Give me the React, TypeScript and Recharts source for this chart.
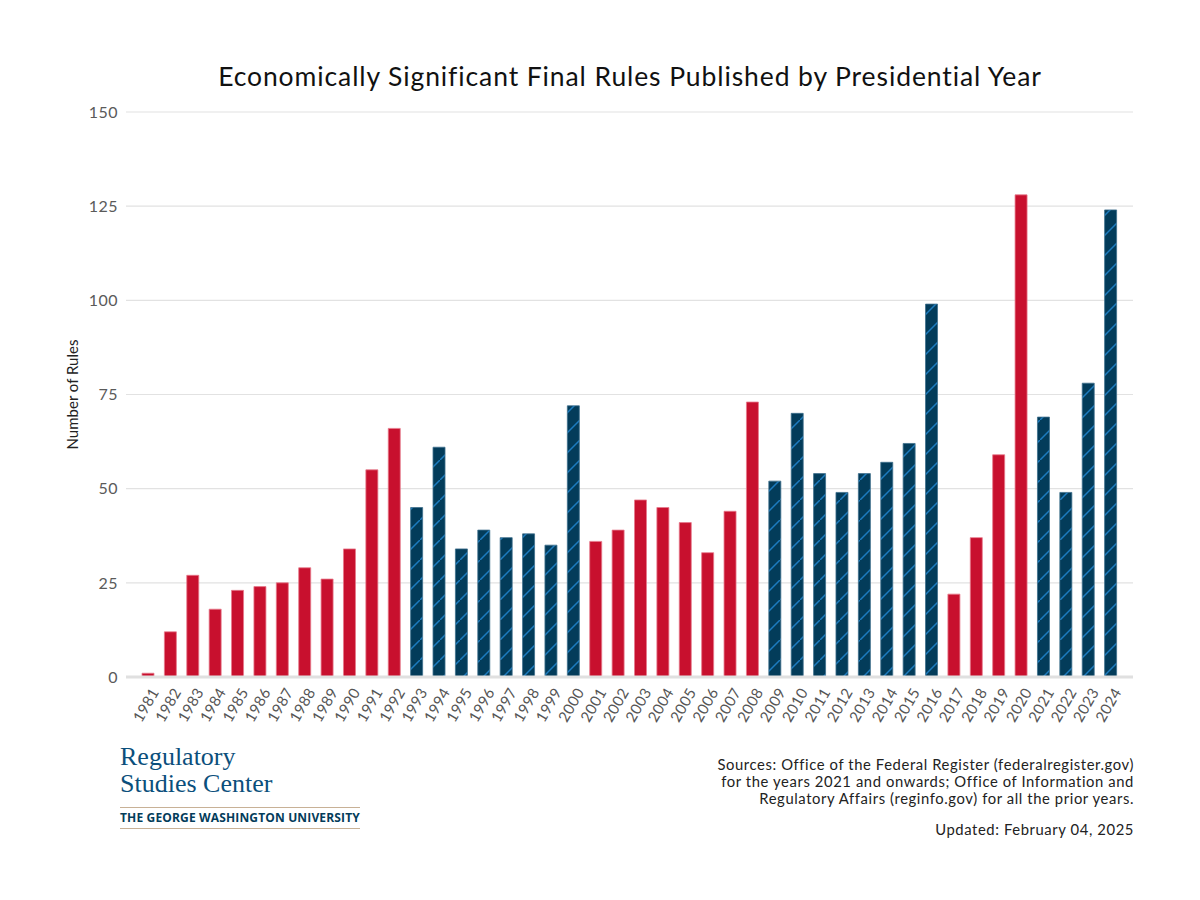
import React from 'react';
import { BarChart, Bar, XAxis, YAxis, CartesianGrid, Cell } from 'recharts';

// years and counts of economically significant final rules
const YEARS = [
  1981, 1982, 1983, 1984, 1985, 1986, 1987, 1988, 1989, 1990, 1991, 1992,
  1993, 1994, 1995, 1996, 1997, 1998, 1999, 2000,
  2001, 2002, 2003, 2004, 2005, 2006, 2007, 2008,
  2009, 2010, 2011, 2012, 2013, 2014, 2015, 2016,
  2017, 2018, 2019, 2020,
  2021, 2022, 2023, 2024,
];
const RULES = [
  1, 12, 27, 18, 23, 24, 25, 29, 26, 34, 55, 66,
  45, 61, 34, 39, 37, 38, 35, 72,
  36, 39, 47, 45, 41, 33, 44, 73,
  52, 70, 54, 49, 54, 57, 62, 99,
  22, 37, 59, 128,
  69, 49, 78, 124,
];
// R = Republican administration, D = Democratic administration
const PARTY = [
  'R', 'R', 'R', 'R', 'R', 'R', 'R', 'R', 'R', 'R', 'R', 'R',
  'D', 'D', 'D', 'D', 'D', 'D', 'D', 'D',
  'R', 'R', 'R', 'R', 'R', 'R', 'R', 'R',
  'D', 'D', 'D', 'D', 'D', 'D', 'D', 'D',
  'R', 'R', 'R', 'R',
  'D', 'D', 'D', 'D',
];
const Y_TICKS = [0, 25, 50, 75, 100, 125, 150];

const RED = '#C8102E';
const NAVY = '#033C5A';
const FONT = 'Lato, "Open Sans", sans-serif';

const data = YEARS.map((year, i) => ({ year: String(year), rules: RULES[i], party: PARTY[i] }));

function YearTick(props: any) {
  const { x, y, payload } = props;
  const ax = x + 6;
  const ay = y + 4;
  return (
    <text
      x={ax}
      y={ay}
      transform={`rotate(-60 ${ax} ${ay})`}
      textAnchor="end"
      dominantBaseline="central"
      fontSize={15}
      letterSpacing={0.3}
      fill="#555"
      fontFamily={FONT}
    >
      {payload.value}
    </text>
  );
}

export default function App() {
  return (
    <div style={{ position: 'absolute', left: 0, top: 0, width: 1200, height: 900, background: '#fff', fontFamily: FONT }}>
      <div style={{ position: 'absolute', left: 0, width: 1260, top: 60, textAlign: 'center', fontSize: 26.5, letterSpacing: 0.9, color: '#111' }}>
        Economically Significant Final Rules Published by Presidential Year
      </div>

      <BarChart
        width={1200}
        height={900}
        data={data}
        margin={{ top: 112, right: 67, bottom: 163, left: 66 }}
        style={{ position: 'absolute', left: 0, top: 0 }}
      >
        <defs>
          <pattern id="hatch" patternUnits="userSpaceOnUse" width="20" height="20">
            <rect width="20" height="20" fill={NAVY} />
            <line x1="-2" y1="22" x2="22" y2="-2" stroke="#1C7BBF" strokeWidth="1.5" />
          </pattern>
        </defs>
        <CartesianGrid vertical={false} stroke="#e2e2e2" strokeWidth={1.2} />
        <XAxis
          dataKey="year"
          interval={0}
          padding={{ left: 11, right: 11 }}
          axisLine={{ stroke: '#e0e0e0', strokeWidth: 3 }}
          tickLine={false}
          tick={<YearTick />}
          height={60}
        />
        <YAxis
          domain={[0, 150]}
          ticks={Y_TICKS}
          axisLine={false}
          tickLine={false}
          width={60}
          tick={{ fontSize: 16, fill: '#5a5a5a', fontFamily: FONT, letterSpacing: 0.5 }}
          label={{
            value: 'Number of Rules',
            angle: -90,
            position: 'insideLeft',
            dx: 2,
            style: { textAnchor: 'middle', fontSize: 15, fill: '#222', fontFamily: FONT },
          }}
        />
        <Bar dataKey="rules" barSize={12} isAnimationActive={false}>
          {data.map((d, i) => (
            <Cell
              key={i}
              fill={d.party === 'R' ? RED : 'url(#hatch)'}
              stroke={d.party === 'R' ? '#e77a8c' : '#3d6f8c'}
              strokeWidth={0.8}
            />
          ))}
        </Bar>
      </BarChart>

      <div style={{ position: 'absolute', left: 120, top: 743, color: '#0b4f7c', fontFamily: '"Liberation Serif", serif', fontSize: 26, lineHeight: '27px' }}>
        Regulatory<br />Studies Center
      </div>
      <div style={{ position: 'absolute', left: 120, top: 807, width: 240, borderTop: '1px solid #c8b196', borderBottom: '1px solid #c8b196', height: 20 }}>
        <div style={{ fontSize: 12, fontWeight: 700, color: NAVY, letterSpacing: 0.15, lineHeight: '20px', whiteSpace: 'nowrap', fontFamily: '"Open Sans", sans-serif' }}>
          THE GEORGE WASHINGTON UNIVERSITY
        </div>
      </div>

      <div style={{ position: 'absolute', right: 66, top: 756, textAlign: 'right', fontSize: 14.8, letterSpacing: 0.6, color: '#222', lineHeight: '17px' }}>
        Sources: Office of the Federal Register (federalregister.gov)<br />
        for the years 2021 and onwards; Office of Information and<br />
        Regulatory Affairs (reginfo.gov) for all the prior years.
      </div>
      <div style={{ position: 'absolute', right: 66, top: 820, textAlign: 'right', fontSize: 14.8, letterSpacing: 0.6, color: '#222' }}>
        Updated: February 04, 2025
      </div>
    </div>
  );
}
